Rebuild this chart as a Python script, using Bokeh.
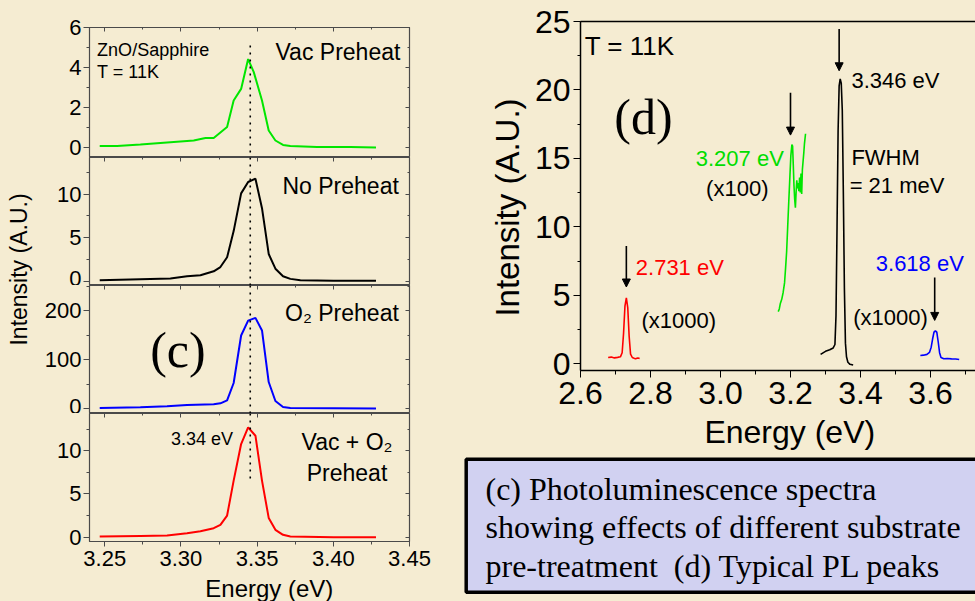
from math import pi
from bokeh.plotting import figure
from bokeh.layouts import row, column
from bokeh.models import (Range1d, LinearAxis, SingleIntervalTicker, FixedTicker,
                          NumeralTickFormatter, Arrow, NormalHead,
                          BoxAnnotation, ColumnDataSource)
from bokeh.core.properties import value
from bokeh.embed import file_html
from bokeh.resources import INLINE

BG = "#f5ecd2"
FRAME = "#4a4a4a"
SANS = "Liberation Sans"
SERIF = "Liberation Serif"
GREEN = "#00e600"
RED = "#ff0000"
BLUE = "#0000ff"

# ---------------- (c) left panels: PL spectra, energy (eV) vs intensity ----------------
vac_E = [3.2467, 3.2581, 3.2734, 3.2909, 3.3084, 3.3161, 3.3215, 3.3303, 3.3346, 3.3395,
         3.3441, 3.3478, 3.3532, 3.3576, 3.3620, 3.3670, 3.3718, 3.3893, 3.4112, 3.4280]
vac_I = [0.08, 0.08, 0.15, 0.25, 0.35, 0.47, 0.47, 1.02, 2.35, 2.93,
         4.42, 3.77, 2.35, 0.85, 0.35, 0.13, 0.07, 0.02, 0.02, 0.0]

nopre_E = [3.2467, 3.2734, 3.2931, 3.3040, 3.3128, 3.3215, 3.3259, 3.3303, 3.3346, 3.3395,
           3.3441, 3.3489, 3.3532, 3.3576, 3.3620, 3.3670, 3.3718, 3.3784, 3.4003, 3.4280]
nopre_I = [0.11, 0.23, 0.30, 0.56, 0.68, 1.13, 1.62, 2.74, 5.75, 10.08,
           11.39, 11.77, 8.38, 3.12, 1.43, 0.56, 0.26, 0.11, 0.04, 0.04]

o2_E = [3.2467, 3.2734, 3.2909, 3.3040, 3.3215, 3.3259, 3.3303, 3.3346, 3.3395, 3.3441,
        3.3489, 3.3532, 3.3576, 3.3620, 3.3670, 3.3718, 3.4003, 3.4280]
o2_I = [1.4, 2.7, 4.8, 7.5, 8.8, 10.9, 17.0, 52.4, 149.7, 180.0,
        185.7, 160.0, 54.4, 15.6, 3.4, 1.4, 0.7, 0.0]

vaco2_E = [3.2467, 3.2734, 3.2909, 3.3040, 3.3128, 3.3215, 3.3259, 3.3303, 3.3346, 3.3395,
           3.3441, 3.3489, 3.3532, 3.3576, 3.3620, 3.3670, 3.3718, 3.4003, 3.4280]
vaco2_I = [0.08, 0.15, 0.19, 0.46, 0.69, 1.04, 1.42, 2.50, 6.54, 10.77,
           12.69, 11.73, 6.54, 2.23, 0.85, 0.27, 0.08, 0.0, 0.0]

marker_E = 3.3455  # dotted reference line (3.34 eV)

# ---------------- (d) right panel: typical PL peaks ----------------
red_E = [2.679, 2.688, 2.697, 2.706, 2.714, 2.719, 2.723, 2.727, 2.731, 2.735,
         2.739, 2.743, 2.748, 2.757, 2.764, 2.769]
red_I = [0.45, 0.48, 0.42, 0.46, 0.50, 0.80, 2.2, 4.2, 4.8, 4.1,
         2.0, 0.7, 0.45, 0.35, 0.42, 0.38]

green_E = [3.165, 3.168, 3.171, 3.175, 3.179, 3.183, 3.186, 3.189, 3.192, 3.195,
           3.198, 3.201, 3.204, 3.206, 3.208, 3.210, 3.212, 3.214, 3.216, 3.218,
           3.220, 3.222, 3.224, 3.226, 3.228, 3.230, 3.232, 3.234, 3.236, 3.238,
           3.240, 3.243]
green_I = [3.8, 4.0, 4.4, 4.7, 5.2, 5.9, 7.0, 8.2, 10.0, 11.8,
           13.5, 15.2, 16.0, 15.9, 14.5, 13.0, 12.0, 11.4, 12.5, 13.4,
           12.8, 13.2, 12.6, 13.6, 12.5, 13.9, 12.4, 14.2, 14.8, 15.4,
           16.1, 16.8]

black_E = [3.286, 3.300, 3.312, 3.322, 3.327, 3.330, 3.333, 3.336, 3.339, 3.342,
           3.345, 3.348, 3.351, 3.354, 3.357, 3.360, 3.364, 3.370, 3.379]
black_I = [0.68, 0.90, 1.02, 1.15, 1.40, 3.5, 10.0, 17.0, 20.3, 20.8,
           20.5, 18.5, 12.5, 5.5, 1.5, 0.5, 0.1, -0.05, -0.1]

blue_E = [3.571, 3.580, 3.590, 3.597, 3.602, 3.606, 3.610, 3.614, 3.618, 3.622,
          3.626, 3.630, 3.638, 3.648, 3.660, 3.672, 3.682]
blue_I = [0.60, 0.62, 0.68, 0.82, 1.2, 1.8, 2.3, 2.4, 2.3, 1.6,
          0.8, 0.45, 0.36, 0.38, 0.35, 0.34, 0.30]

arrow_E = [2.731, 3.200, 3.339, 3.612]
arrow_top = [8.6, 19.8, 24.45, 6.3]
arrow_tip = [5.6, 16.7, 21.4, 3.16]

caption_lines = ["(c) Photoluminescence spectra",
                 "showing effects of different substrate",
                 "pre-treatment \u00a0(d) Typical PL peaks"]


def base_fig(**kw):
    p = figure(output_backend="svg", toolbar_location=None,
               x_axis_location=None, y_axis_location=None,
               background_fill_color=BG, border_fill_color=BG, **kw)
    p.grid.visible = False
    return p


def hidden_tick_axis(ticker, tin=4, mtin=2):
    return LinearAxis(ticker=ticker, major_tick_in=tin, major_tick_out=0,
                      minor_tick_in=mtin, minor_tick_out=0,
                      major_label_text_font_size="0px", major_label_text_alpha=0,
                      major_label_standoff=0,
                      axis_line_color=None, major_tick_line_color=FRAME,
                      minor_tick_line_color=FRAME)


X_LEFT = Range1d(3.24, 3.45)


def left_panel(ystart, yend, interval, top, frame_h, bottom, bottom_axis=False):
    p = base_fig(width=427, height=top + frame_h + bottom,
                 x_range=X_LEFT, y_range=Range1d(ystart, yend),
                 min_border_left=56, min_border_right=51,
                 min_border_top=top, min_border_bottom=bottom,
                 outline_line_color=FRAME, outline_line_width=1.2)
    yt = SingleIntervalTicker(interval=interval, num_minor_ticks=2)
    xt = SingleIntervalTicker(interval=0.05, num_minor_ticks=2)
    p.add_layout(LinearAxis(ticker=yt, major_tick_out=6, major_tick_in=0,
                            minor_tick_out=3, minor_tick_in=0,
                            major_label_text_font=SANS, major_label_text_font_size="22px",
                            major_label_text_color="black", major_label_standoff=2,
                            axis_line_color=FRAME, major_tick_line_color=FRAME,
                            minor_tick_line_color=FRAME), "left")
    p.add_layout(hidden_tick_axis(SingleIntervalTicker(interval=interval, num_minor_ticks=2)), "right")
    p.add_layout(hidden_tick_axis(SingleIntervalTicker(interval=0.05, num_minor_ticks=2)), "above")
    if bottom_axis:
        p.add_layout(LinearAxis(ticker=xt, formatter=NumeralTickFormatter(format="0.00"),
                                major_tick_out=5, major_tick_in=0,
                                minor_tick_out=3, minor_tick_in=0,
                                major_label_text_font=SANS, major_label_text_font_size="22px",
                                major_label_text_color="black", major_label_standoff=4,
                                axis_line_color=FRAME, major_tick_line_color=FRAME,
                                minor_tick_line_color=FRAME), "below")
    return p


def txt(p, x, y, s, size, color="black", align="left", font=SANS, baseline="middle", angle=0):
    p.text(x=[x], y=[y], text=[s], text_font=value(font), text_font_size=size,
           text_color=color, text_align=align, text_baseline=baseline, angle=angle)


# panel 1: Vac Preheat
p1 = left_panel(-0.5, 6.0, 2, 27, 130, 0)
p1.line(vac_E, vac_I, line_color=GREEN, line_width=2)
p1.segment(x0=[marker_E], y0=[5.1], x1=[marker_E], y1=[-0.5], line_color="black",
           line_width=1.6, line_dash="2 5")
txt(p1, 3.245, 4.88, "ZnO/Sapphire", "18px")
txt(p1, 3.245, 3.77, "T = 11K", "18px")
txt(p1, 3.444, 4.77, "Vac Preheat", "23px", align="right")

# panel 2: No Preheat
p2 = left_panel(-0.5, 14.2, 5, 0, 128, 0)
p2.line(nopre_E, nopre_I, line_color="black", line_width=2)
p2.segment(x0=[marker_E], y0=[14.2], x1=[marker_E], y1=[-0.5], line_color="black",
           line_width=1.6, line_dash="2 5")
txt(p2, 3.443, 10.98, "No Preheat", "23px", align="right")

# panel 3: O2 Preheat
p3 = left_panel(-10, 252, 100, 0, 128, 0)
p3.line(o2_E, o2_I, line_color=BLUE, line_width=2)
p3.segment(x0=[marker_E], y0=[252], x1=[marker_E], y1=[-10], line_color="black",
           line_width=1.6, line_dash="2 5")
txt(p3, 3.443, 196.7, "O\u2082 Preheat", "23px", align="right")
txt(p3, 3.298, 119.5, "(c)", "50px", align="center", font=SERIF)

# panel 4: Vac + O2 Preheat
p4 = left_panel(-0.5, 14.3, 5, 0, 128, 35, bottom_axis=True)
p4.line(vaco2_E, vaco2_I, line_color=RED, line_width=2)
p4.segment(x0=[marker_E], y0=[14.3], x1=[marker_E], y1=[6.5], line_color="black",
           line_width=1.6, line_dash="2 5")
txt(p4, 3.2935, 11.35, "3.34 eV", "18px")
txt(p4, 3.409, 10.96, "Vac + O\u2082", "23px", align="center")
txt(p4, 3.409, 7.38, "Preheat", "23px", align="center")

# x-axis title strip of the left column
p5 = base_fig(width=427, height=25, x_range=X_LEFT, y_range=Range1d(25, 0),
              min_border_left=56, min_border_right=51, min_border_top=0,
              min_border_bottom=0, outline_line_color=None)
txt(p5, 3.358, 12, "Energy (eV)", "24px", align="center")

# shared y-axis title of the left column
pl = base_fig(width=33, height=601, x_range=Range1d(0, 33), y_range=Range1d(601, 0),
              min_border=0, outline_line_color=None)
txt(pl, 18, 269, "Intensity (A.U.)", "23px", align="center", angle=pi / 2)

# ---------------- right panel (d) ----------------
X_RIGHT = Range1d(2.6, 3.7286)
pr = base_fig(width=447, height=417, x_range=X_RIGHT, y_range=Range1d(-0.5, 25),
              min_border_left=52, min_border_right=0, min_border_top=21,
              min_border_bottom=47, outline_line_color=None)
pr.add_layout(LinearAxis(ticker=SingleIntervalTicker(interval=5, num_minor_ticks=2),
                         major_tick_out=7, major_tick_in=0, minor_tick_out=3, minor_tick_in=0,
                         major_label_text_font=SANS, major_label_text_font_size="32px",
                         major_label_text_color="black", major_label_standoff=3,
                         axis_line_width=1.5), "left")
pr.add_layout(LinearAxis(ticker=SingleIntervalTicker(interval=0.2, num_minor_ticks=2),
                         formatter=NumeralTickFormatter(format="0.0"),
                         major_tick_out=7, major_tick_in=0, minor_tick_out=4, minor_tick_in=0,
                         major_label_text_font=SANS, major_label_text_font_size="32px",
                         major_label_text_color="black", major_label_standoff=4,
                         axis_line_width=1.5), "below")
pr.add_layout(LinearAxis(ticker=FixedTicker(ticks=[]), major_label_text_font_size="0px",
                         major_label_text_alpha=0,
                         major_label_standoff=0, major_tick_out=0, major_tick_in=0,
                         axis_line_width=1.5), "above")

pr.line(red_E, red_I, line_color=RED, line_width=1.6)
pr.line(green_E, green_I, line_color=GREEN, line_width=1.6)
pr.line(black_E, black_I, line_color="black", line_width=1.6)
pr.line(blue_E, blue_I, line_color=BLUE, line_width=1.6)

arrows = ColumnDataSource(dict(x0=arrow_E, y0=arrow_top, x1=arrow_E, y1=arrow_tip))
pr.add_layout(Arrow(source=arrows, x_start="x0", y_start="y0", x_end="x1", y_end="y1",
                    line_width=1.6, line_color="black",
                    end=NormalHead(size=8, fill_color="black", line_color="black")))

txt(pr, 2.612, 23.2, "T = 11K", "26px")
txt(pr, 2.78, 18.0, "(d)", "50px", align="center", font=SERIF)
txt(pr, 3.374, 20.7, "3.346 eV", "22px")
txt(pr, 3.181, 14.96, "3.207 eV", "22px", color="#00dd00", align="right")
txt(pr, 3.048, 12.77, "(x100)", "22px", align="center")
txt(pr, 3.374, 15.08, "FWHM", "22px")
txt(pr, 3.369, 13.0, "= 21 meV", "22px")
txt(pr, 2.758, 7.05, "2.731 eV", "22px", color=RED)
txt(pr, 2.774, 3.16, "(x1000)", "22px")
txt(pr, 3.4437, 7.3, "3.618 eV", "22px", color=BLUE)
txt(pr, 3.379, 3.4, "(x1000)", "22px")

# x-axis title strip of the right panel
pxr = base_fig(width=447, height=33, x_range=X_RIGHT, y_range=Range1d(33, 0),
               min_border_left=52, min_border_right=0, min_border_top=0,
               min_border_bottom=0, outline_line_color=None)
txt(pxr, 3.198, 14.5, "Energy (eV)", "32px", align="center")

# y-axis title strip of the right panel
pyr = base_fig(width=68, height=450, x_range=Range1d(0, 68), y_range=Range1d(450, 0),
               min_border=0, outline_line_color=None)
txt(pyr, 47, 207, "Intensity (A.U.)", "33px", align="center", angle=pi / 2)

# ---------------- caption box ----------------
pc = base_fig(width=515, height=151, x_range=Range1d(0, 515), y_range=Range1d(151, 0),
              min_border=0, outline_line_color=None)
pc.add_layout(BoxAnnotation(left=5.7, right=540, top=8.7, bottom=141.7,
                            fill_color="#d1d1f1", fill_alpha=1.0, level="underlay",
                            line_color="black", line_width=3.5, line_alpha=1.0))
for i, s in enumerate(caption_lines):
    txt(pc, 25, 38 + 38.5 * i, s, "32px", font=SERIF)

STY = {"background-color": BG}
left_col = column(p1, p2, p3, p4, p5, spacing=0, styles=STY)
right_top = row(pyr, column(pr, pxr, spacing=0, styles=STY), spacing=0, styles=STY)
right_col = column(right_top, row(pc, styles=STY), spacing=0, styles=STY)
p = row(pl, left_col, right_col, spacing=0, styles=STY)

open("out.html", "w").write(file_html(p, INLINE))
